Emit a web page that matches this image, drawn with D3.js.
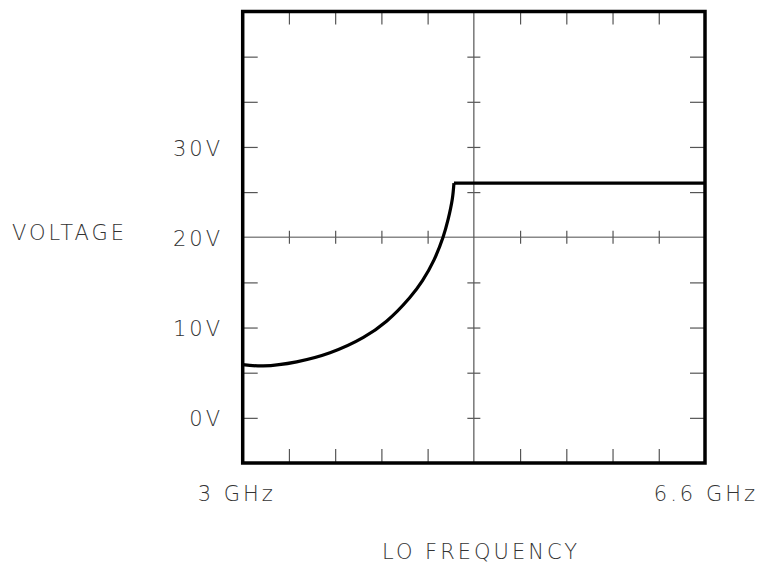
<!DOCTYPE html>
<html>
<head>
<meta charset="utf-8">
<script src="https://cdnjs.cloudflare.com/ajax/libs/d3/7.8.5/d3.min.js"></script>
<style>
  html, body { margin: 0; padding: 0; background: #fff; }
  svg { display: block; }
  .lbl { font-family: 'DejaVu Sans', sans-serif; font-weight: 200; font-size: 21px; fill: #333; letter-spacing: 3px; }
</style>
</head>
<body>
<svg id="chart"></svg>
<script>
// LO frequency (GHz) vs voltage (V)
const sweepFreq = [3.0, 3.16, 3.42, 3.68, 3.94, 4.12, 4.30, 4.40, 4.49, 4.56, 4.60, 4.632, 4.645];
const sweepVolt = [5.9, 5.75, 6.2, 7.2, 8.9, 10.7, 13.3, 15.2, 17.5, 20.0, 22.0, 24.2, 26.0];
const flatFreq = [4.645, 6.6];
const flatVolt = [26.0, 26.0];

const xTickValues = [3.36, 3.72, 4.08, 4.44, 5.16, 5.52, 5.88, 6.24];
const yTickValues = [0, 5, 10, 15, 25, 30, 35, 40];
const yLabelValues = [30, 20, 10, 0];
const yLabels = ['30V', '20V', '10V', '0V'];
const xLabels = ['3 GHz', '6.6 GHz'];
const xCenter = 4.8, yCenter = 20;

(function() {
    const W = 757, H = 563;
    const left = 242.7, right = 705, top = 11.5, bottom = 463;

    const svg = d3.select('svg#chart')
        .attr('width', W)
        .attr('height', H);

    const xScale = d3.scaleLinear().domain([3, 6.6]).range([left, right]);
    const yScale = d3.scaleLinear().domain([-5, 45]).range([bottom, top]);

    // centre cross lines
    svg.append('line')
        .attr('x1', left).attr('x2', right)
        .attr('y1', yScale(yCenter)).attr('y2', yScale(yCenter))
        .attr('stroke', '#888').attr('stroke-width', 1.3);
    svg.append('line')
        .attr('x1', xScale(xCenter)).attr('x2', xScale(xCenter))
        .attr('y1', top).attr('y2', bottom)
        .attr('stroke', '#555').attr('stroke-width', 1.2);

    // edge ticks pointing inward, plus ticks across the centre lines
    const tickGroups = [
        { axis: d3.axisTop(xScale).tickValues(xTickValues).tickSizeInner(-13), at: `translate(0, ${top})` },
        { axis: d3.axisBottom(xScale).tickValues(xTickValues).tickSizeInner(-14), at: `translate(0, ${bottom})` },
        { axis: d3.axisLeft(yScale).tickValues(yTickValues).tickSizeInner(-15), at: `translate(${left}, 0)` },
        { axis: d3.axisRight(yScale).tickValues(yTickValues).tickSizeInner(-15), at: `translate(${right}, 0)` },
        { axis: d3.axisBottom(xScale).tickValues(xTickValues).tickSizeInner(6.5), at: `translate(0, ${yScale(yCenter)})` },
        { axis: d3.axisTop(xScale).tickValues(xTickValues).tickSizeInner(6.5), at: `translate(0, ${yScale(yCenter)})` },
        { axis: d3.axisLeft(yScale).tickValues(yTickValues).tickSizeInner(6.5), at: `translate(${xScale(xCenter)}, 0)` },
        { axis: d3.axisRight(yScale).tickValues(yTickValues).tickSizeInner(6.5), at: `translate(${xScale(xCenter)}, 0)` }
    ];

    tickGroups.forEach((t) => {
        const g = svg.append('g')
            .attr('transform', t.at)
            .call(t.axis.tickFormat('').tickSizeOuter(0));
        g.select('.domain').remove();
        g.selectAll('.tick line').attr('stroke', '#555').attr('stroke-width', 1.2);
    });

    // curve
    svg.append('path')
        .datum(sweepFreq.map((f, i) => [f, sweepVolt[i]]))
        .attr('d', d3.line()
            .x((d) => xScale(d[0]))
            .y((d) => yScale(d[1]))
            .curve(d3.curveCatmullRom.alpha(0.5)))
        .attr('fill', 'none')
        .attr('stroke', '#000')
        .attr('stroke-width', 3.2);

    svg.append('path')
        .datum(flatFreq.map((f, i) => [f, flatVolt[i]]))
        .attr('d', d3.line().x((d) => xScale(d[0])).y((d) => yScale(d[1])))
        .attr('fill', 'none')
        .attr('stroke', '#000')
        .attr('stroke-width', 3.2);

    // frame
    svg.append('rect')
        .attr('x', left).attr('y', top)
        .attr('width', right - left).attr('height', bottom - top)
        .attr('fill', 'none')
        .attr('stroke', '#000')
        .attr('stroke-width', 3.5);

    // y labels
    svg.selectAll('.ylbl')
        .data(yLabelValues)
        .enter()
        .append('text')
        .attr('class', 'lbl')
        .attr('x', 223)
        .attr('y', (v) => yScale(v) + 1)
        .attr('dy', '0.36em')
        .attr('text-anchor', 'end')
        .text((v, i) => yLabels[i]);

    svg.append('text')
        .attr('class', 'lbl')
        .attr('x', 12)
        .attr('y', yScale(yCenter) - 5)
        .attr('dy', '0.36em')
        .text('VOLTAGE');

    // x labels
    svg.append('text')
        .attr('class', 'lbl')
        .attr('x', xScale(3) - 45)
        .attr('y', 493)
        .attr('dy', '0.36em')
        .text(xLabels[0]);

    svg.append('text')
        .attr('class', 'lbl')
        .attr('x', xScale(6.6) + 53)
        .attr('y', 493)
        .attr('dy', '0.36em')
        .attr('text-anchor', 'end')
        .text(xLabels[1]);

    svg.append('text')
        .attr('class', 'lbl')
        .attr('x', 481)
        .attr('y', 551)
        .attr('dy', '0.36em')
        .attr('text-anchor', 'middle')
        .text('LO FREQUENCY');
})();
</script>
</body>
</html>
